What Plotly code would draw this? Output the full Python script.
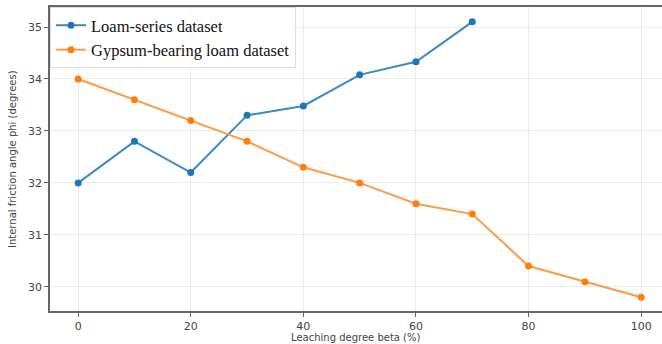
import plotly.graph_objects as go

loam_x = [0, 10, 20, 30, 40, 50, 60, 70]
loam_y = [32.0, 32.8, 32.2, 33.3, 33.48, 34.08, 34.33, 35.1]
gyp_x = [0, 10, 20, 30, 40, 50, 60, 70, 80, 90, 100]
gyp_y = [34.0, 33.6, 33.2, 32.8, 32.3, 32.0, 31.6, 31.4, 30.4, 30.1, 29.8]

fig = go.Figure()
fig.add_trace(go.Scatter(x=loam_x, y=loam_y, mode="lines+markers", name="Loam-series dataset",
                         line=dict(color="#3a8ac4", width=2), marker=dict(color="#1f77b4", size=7)))
fig.add_trace(go.Scatter(x=gyp_x, y=gyp_y, mode="lines+markers", name="Gypsum-bearing loam dataset",
                         line=dict(color="#ff9a45", width=2), marker=dict(color="#ff7f0e", size=7)))

fig.update_layout(
    width=662, height=344,
    margin=dict(l=50, r=0, t=7, b=33, autoexpand=False),
    paper_bgcolor="white", plot_bgcolor="white",
    font=dict(family="DejaVu Sans", size=11, color="#444"),
    legend=dict(x=0.0, y=1.0, xanchor="left", yanchor="top",
                font=dict(family="Liberation Serif", size=16.5, color="#111"),
                bgcolor="rgba(255,255,255,0.8)", bordercolor="#ddd", borderwidth=1,
                tracegroupgap=0, itemwidth=30),
    showlegend=True,
    annotations=[
        dict(text="Leaching degree beta (%)", xref="paper", yref="paper", x=0.5, y=0,
             yshift=-26, xanchor="center", yanchor="middle", showarrow=False,
             font=dict(size=10, color="#444")),
        dict(text="Internal friction angle phi (degrees)", xref="paper", yref="paper", x=0, y=0.5,
             xshift=-38, xanchor="center", yanchor="middle", textangle=-90, showarrow=False,
             font=dict(size=10, color="#444")),
    ],
)
fig.update_xaxes(range=[-5, 103.7], tickvals=[0, 20, 40, 60, 80, 100], automargin=False,
                 showgrid=True, gridcolor="#ebebeb", zeroline=False,
                 showline=True, linecolor="#666", linewidth=1.5, mirror=True,
                 ticks="outside", ticklen=4, tickcolor="#666")
fig.update_yaxes(range=[29.535, 35.385], tickvals=[30, 31, 32, 33, 34, 35], automargin=False,
                 showgrid=True, gridcolor="#ebebeb", zeroline=False,
                 showline=True, linecolor="#666", linewidth=1.5,
                 ticks="outside", ticklen=4, tickcolor="#666")

fig.write_html("out.html", config={"displayModeBar": False},
               post_script="document.body.style.margin='0px';document.body.style.overflow='hidden';")
